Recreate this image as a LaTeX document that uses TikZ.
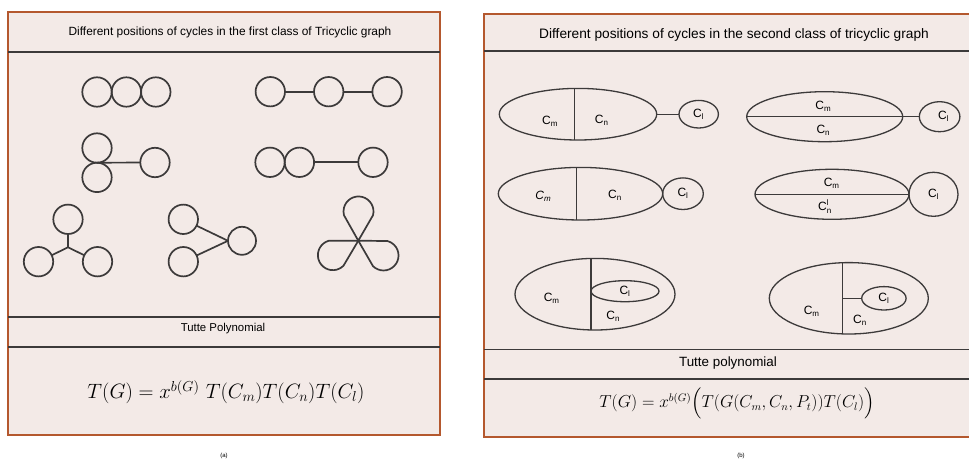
\documentclass[tikz,border=0pt]{standalone}
\usepackage{amsmath}
\usepackage{fontspec}
\newfontfamily\labelfont{Liberation Sans}
\usepackage{tikz}
\usetikzlibrary{shapes.geometric, positioning, calc}
\definecolor{panelfill}{HTML}{F3EAE7}
\definecolor{panelrim}{HTML}{B4582E}
\definecolor{inkgray}{HTML}{3C3A3A}

\tikzset{
	cyc/.style={circle, draw=inkgray, line width=1.7pt, minimum size=29.4pt, inner sep=0pt, outer sep=0pt},
	edge/.style={draw=inkgray, line width=1.7pt},
	oval/.style={ellipse, draw=inkgray, line width=1.3pt, inner sep=0pt, outer sep=0pt, font=\labelfont\fontsize{12}{13}\selectfont},
	split/.style={draw=inkgray, line width=1.3pt},
	rule/.style={draw=inkgray, line width=1.6pt},
	lab/.style={font=\labelfont\fontsize{12}{13}\selectfont, inner sep=0pt},
	panel/.style={draw=panelrim, fill=panelfill, line width=2pt}
}

\begin{document}
\begin{tikzpicture}[x=1pt, y=1pt]
	\useasboundingbox (0,0) rectangle (969,459);
	\clip (0,0) rectangle (969,459);

	% panel (a)
	\draw[panel] (8,24) rectangle (440,447);
	\draw[rule] (8,407) -- (440,407);
	\draw[rule] (8,142) -- (440,142);
	\draw[rule] (8,112) -- (440,112);
	\node[font=\labelfont\fontsize{11.9}{14}\selectfont] (ta) at (230,427) {Different positions of cycles in the first class of Tricyclic graph};

	% three cycles in a row
	\node[cyc] (a1) at (97,367) {};
	\node[cyc, right=0pt of a1] (a2) {};
	\node[cyc, right=0pt of a2] (a3) {};

	\node[cyc] (b1) at (270.3,367.3) {};
	\node[cyc, right=29pt of b1] (b2) {};
	\node[cyc, right=29pt of b2] (b3) {};
	\draw[edge] (b1) -- (b2) (b2) -- (b3);

	\node[cyc] (c1) at (97,311) {};
	\node[cyc, below=0pt of c1] (c2) {};
	\node[cyc] (c3) at (155,296.5) {};
	\draw[edge] (c1.south) -- (c3);

	\node[cyc] (d1) at (270,296.7) {};
	\node[cyc, right=0pt of d1] (d2) {};
	\node[cyc] (d3) at (373,296.7) {};
	\draw[edge] (d2) -- (d3);

	% star with three cycles
	\coordinate (tj) at (68,211.7);
	\node[cyc] (t1) at (68,239.7) {};
	\node[cyc] (t2) at (38.5,197.3) {};
	\node[cyc] (t3) at (97.5,197.3) {};
	\draw[edge] (tj) -- (t1) (tj) -- (t2) (tj) -- (t3);

	\node[cyc] (f1) at (183.3,239.7) {};
	\node[cyc] (f2) at (183.3,197.3) {};
	\node[cyc, minimum size=28pt] (f3) at (242,218.2) {};
	\draw[edge] (f3.west) -- (f1) (f3.west) -- (f2);

	% three loops on one vertex
	\coordinate (fl) at (358.3,218.3);
	\foreach \a in {90,210,330}
		\draw[edge, line join=round] (fl) -- ++(\a-30:29.4) arc[start angle=\a-104.6, end angle=\a+104.6, radius=15] -- cycle;

	\node[font=\labelfont\fontsize{11.4}{13}\selectfont] (pa) at (223,130) {Tutte Polynomial};
	\node[font=\fontsize{21.3}{25}\selectfont] (fa) at (226,67) {$T(G)=x^{b(G)}\ T(C_m)T(C_n)T(C_l)$};
	\node[font=\labelfont\fontsize{6}{7}\selectfont, inner sep=0pt] (ca) at (224,3.5) {(a)};

	% panel (b)
	\draw[panel] (484,22) rectangle (980,445);
	\draw[rule] (484,408) -- (980,408);
	\draw[rule] (484,109.5) -- (980,109.5);
	\draw[rule] (484,80) -- (980,80);
	\node[font=\labelfont\fontsize{13.7}{16}\selectfont] (tb) at (734,424) {Different positions of cycles in the second class of tricyclic graph};

	\node[oval, minimum width=157.4pt, minimum height=51.6pt] (o1) at (578,344.8) {};
	\node[oval, minimum width=39.4pt, minimum height=27.6pt, right=22.3pt of o1] (l1) {C\textsubscript{l}};
	\draw[split] ($(o1.north)+(-3.7,0)$) -- ($(o1.south)+(-3.7,0)$);
	\draw[split] (o1) -- (l1);
	\node[lab] (m1) at (550,337.3) {C\textsubscript{m}};
	\node[lab] (n1) at (601.7,338.3) {C\textsubscript{n}};

	\node[oval, minimum width=156pt, minimum height=50pt] (o2) at (824.7,342.3) {};
	\node[oval, minimum width=40.6pt, minimum height=30pt, right=16.6pt of o2] (l2) {\hspace*{8pt}C\textsubscript{l}};
	\draw[split] (o2.west) -- (o2.east);
	\draw[split] (o2) -- (l2);
	\node[lab] (m2) at (823.3,352.3) {C\textsubscript{m}};
	\node[lab] (n2) at (823.3,329) {C\textsubscript{n}};

	\node[oval, minimum width=164.4pt, minimum height=52.6pt] (o3) at (580.5,265.3) {};
	\node[oval, minimum width=40.6pt, minimum height=31.6pt, anchor=west] (l3) at (o3.east) {C\textsubscript{l}};
	\draw[split] ($(o3.north)+(-3.8,0)$) -- ($(o3.south)+(-3.8,0)$);
	\node[lab, font=\labelfont\itshape\fontsize{12}{13}\selectfont] (m3) at (543.3,263) {C\textsubscript{m}};
	\node[lab] (n3) at (615,264) {C\textsubscript{n}};

	\node[oval, minimum width=154pt, minimum height=50pt] (o4) at (832,264.7) {};
	\node[oval, minimum width=49pt, minimum height=44pt, anchor=west] (l4) at (o4.east) {C\textsubscript{l}};
	\draw[split] (o4.west) -- (o4.east);
	\node[lab] (m4) at (831.7,275.7) {C\textsubscript{m}};
	\node[lab] (n4) at (825,252.3) {C$_{\text{n}}^{\text{l}}$};

	\node[oval, minimum width=160pt, minimum height=71.6pt] (o5) at (595,164.8) {};
	\draw[split] ($(o5.north)+(-4,0)$) -- ($(o5.south)+(-4,0)$);
	\coordinate (d5) at ($(o5.center)+(-4,3)$);
	\node[oval, minimum width=68pt, minimum height=21pt, anchor=west] (i5) at (d5) {C\textsubscript{l}};
	\node[lab] (m5) at (551.7,160.7) {C\textsubscript{m}};
	\node[lab] (n5) at (613.3,143) {C\textsubscript{n}};

	\node[oval, minimum width=159pt, minimum height=71.4pt] (o6) at (848.8,160.7) {};
	\draw[split] ($(o6.north)+(-6.5,0)$) -- ($(o6.south)+(-6.5,0)$);
	\coordinate (d6) at ($(o6.center)+(-6.5,0)$);
	\node[oval, minimum width=44.4pt, minimum height=23.4pt, right=19.4pt of d6] (i6) {C\textsubscript{l}};
	\draw[split] (d6) -- (i6);
	\node[lab] (m6) at (811.7,147.3) {C\textsubscript{m}};
	\node[lab] (n6) at (860,139) {C\textsubscript{n}};

	\node[font=\labelfont\fontsize{13.4}{16}\selectfont] (pb) at (728,95.5) {Tutte polynomial};
	\node[font=\fontsize{16.2}{20}\selectfont] (fb) at (737,55.5) {$T(G)=x^{b(G)}\Big(T(G(C_m,C_n,P_t))T(C_l)\Big)$};
	\node[font=\labelfont\fontsize{6}{7}\selectfont, inner sep=0pt] (cb) at (741,3) {(b)};
\end{tikzpicture}
\end{document}
